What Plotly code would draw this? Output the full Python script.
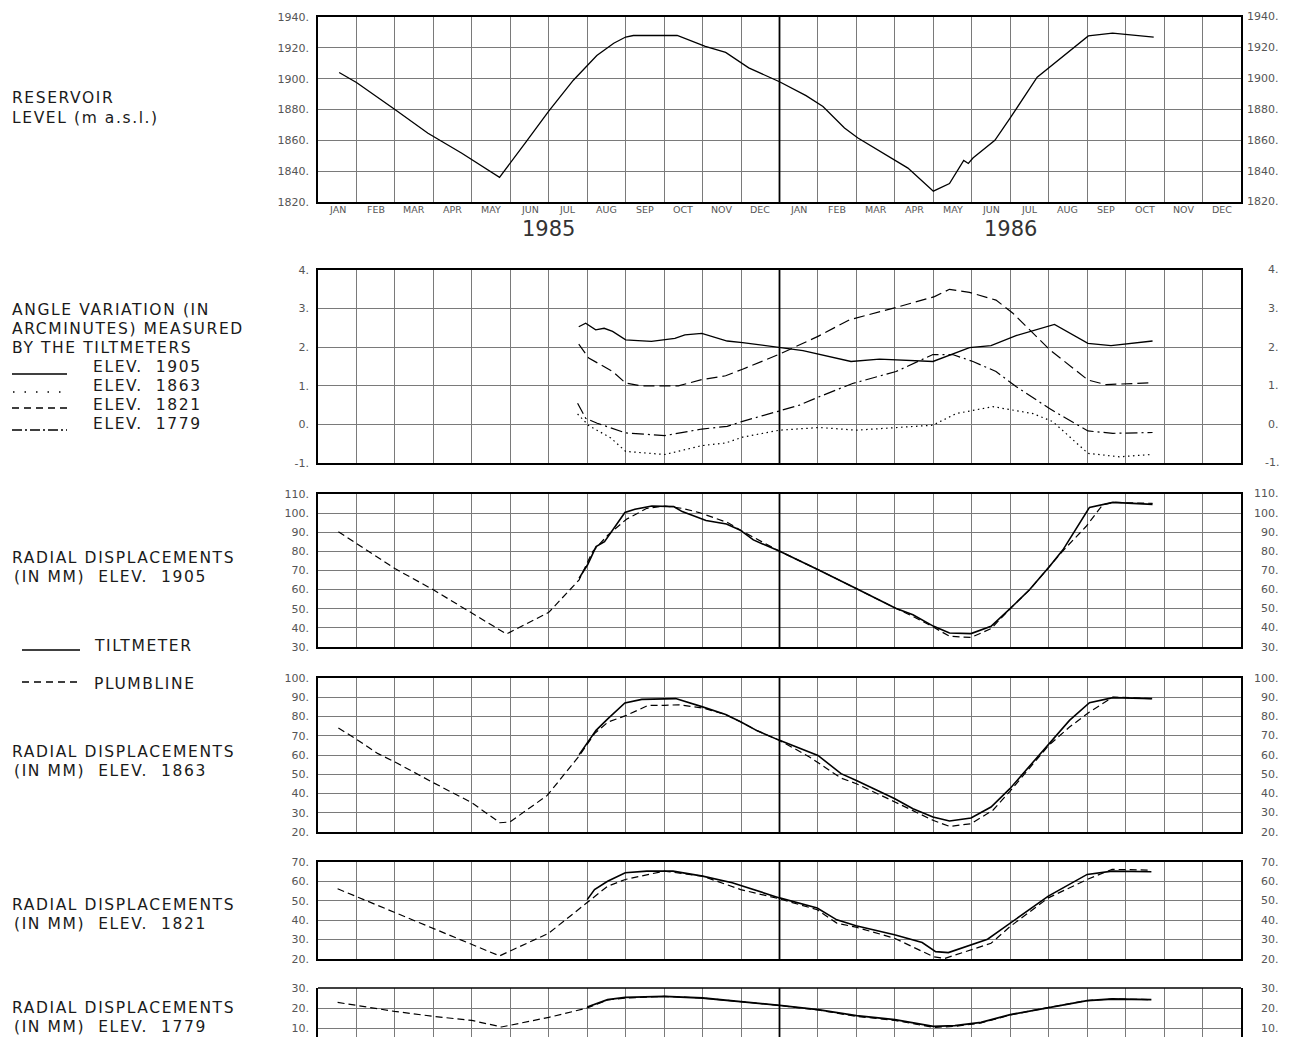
import plotly.graph_objects as go

W, H = 1289, 1045          # browser window
P = 8                      # default body margin of the page
FW, FH = W - 2 * P, H - 2 * P

# ---------------- data ----------------
months = ["JAN", "FEB", "MAR", "APR", "MAY", "JUN", "JUL", "AUG", "SEP", "OCT", "NOV", "DEC"]
years = ["1985", "1986"]

# x positions are in months since 1 Jan 1985
res_m = [0.55, 1.0, 2.0, 2.86, 3.74, 4.72, 5.41, 6.0, 6.64, 7.0, 7.25, 7.69, 8.0, 8.2, 9.34, 10.07,
         10.6, 11.2, 12.0, 12.69, 13.13, 13.69, 14.04, 15.34, 16.0, 16.42, 16.79, 16.91, 17.03, 17.6,
         18.0, 18.7, 19.24, 20.03, 20.66, 21.05, 21.73]
res_v = [1904, 1897.5, 1880, 1864.6, 1851.6, 1836, 1859, 1879, 1899, 1908.5, 1915, 1923, 1927, 1928,
         1928, 1921, 1917, 1907, 1898, 1889, 1882, 1868, 1861.5, 1842, 1827, 1832, 1847, 1845, 1848.5,
         1860, 1874.5, 1901, 1912, 1927.7, 1929.6, 1928.5, 1927]

a1905_m = [6.78, 6.96, 7.22, 7.44, 7.66, 8.0, 8.32, 8.67, 9.28, 9.54, 9.98, 10.64, 11.04, 12.0, 12.61,
           13.86, 14.6, 15.99, 16.42, 16.94, 17.5, 18.15, 19.15, 20.02, 20.62, 21.7]
a1905_v = [2.53, 2.62, 2.45, 2.49, 2.41, 2.19, 2.17, 2.15, 2.23, 2.32, 2.36, 2.16, 2.12, 2.0, 1.91,
           1.63, 1.69, 1.63, 1.8, 1.99, 2.04, 2.3, 2.59, 2.1, 2.04, 2.16]
a1863_m = [6.75, 7.04, 7.61, 8.0, 9.02, 9.98, 10.6, 11.04, 12.0, 13.04, 13.99, 15.03, 15.99, 16.59,
           17.55, 18.59, 19.11, 20.02, 20.84, 21.66]
a1863_v = [0.27, -0.03, -0.35, -0.7, -0.78, -0.55, -0.48, -0.33, -0.15, -0.08, -0.15, -0.08, -0.02,
           0.28, 0.46, 0.28, 0.07, -0.75, -0.84, -0.78]
a1821_m = [6.78, 7.04, 7.66, 8.0, 8.4, 9.37, 9.98, 10.6, 11.04, 12.0, 13.0, 13.82, 15.03, 16.03, 16.42,
           16.94, 17.63, 18.07, 19.02, 20.02, 20.49, 21.7]
a1821_v = [2.08, 1.72, 1.37, 1.07, 1.0, 1.0, 1.16, 1.26, 1.43, 1.82, 2.28, 2.71, 3.03, 3.31, 3.5,
           3.42, 3.22, 2.88, 1.94, 1.15, 1.03, 1.08]
a1779_m = [6.75, 6.96, 7.26, 8.0, 9.02, 9.98, 10.64, 11.04, 12.0, 12.52, 13.04, 13.9, 15.03, 15.99,
           16.5, 17.03, 17.63, 18.15, 19.02, 20.02, 20.67, 21.7]
a1779_v = [0.55, 0.16, 0.03, -0.22, -0.29, -0.12, -0.05, 0.08, 0.35, 0.5, 0.72, 1.06, 1.37, 1.81,
           1.81, 1.63, 1.37, 0.98, 0.41, -0.17, -0.23, -0.21]

r1905_p_m = [0.53, 2.0, 3.0, 4.02, 4.9, 6.0, 6.79, 7.14, 7.54, 8.02, 8.55, 9.03, 9.47, 9.91, 10.66,
             11.05, 12.02, 13.02, 13.82, 14.02, 15.02, 15.47, 16.01, 16.42, 16.98, 17.5, 18.01, 18.5,
             19.02, 19.37, 19.97, 20.4, 20.67, 21.7]
r1905_p_v = [90.3, 71.0, 59.9, 47.7, 36.8, 48.1, 65.1, 79.9, 88.6, 96.8, 102.5, 103.7, 102.5, 100.3,
             95, 90.3, 79.9, 70.3, 62.5, 60.3, 50.3, 46, 40.3, 35.6, 35, 39.6, 50.3, 59.9, 72.1, 80.3,
             93, 104.3, 105.6, 105.1]
r1905_t_m = [6.79, 7.01, 7.23, 7.45, 7.98, 8.24, 8.68, 9.25, 9.47, 10.09, 10.62, 10.97, 11.32, 12.02,
             13.02, 13.82, 14.02, 15.02, 15.47, 16.01, 16.42, 16.98, 17.5, 18.01, 18.5, 19.02, 19.37,
             20.06, 20.67, 21.7]
r1905_t_v = [66, 73, 82.5, 85.1, 100.3, 102, 103.7, 103.4, 100.8, 96.1, 94.3, 91.2, 86, 79.9, 70.3,
             62.5, 60.3, 50.3, 46.9, 40.8, 37.3, 37, 40.8, 50.3, 59.9, 72.1, 80.8, 103, 105.6, 104.6]

r1863_p_m = [0.53, 0.95, 1.56, 2.0, 3.0, 4.0, 4.73, 4.99, 5.96, 6.79, 7.19, 7.54, 8.02, 8.59, 9.0,
             9.38, 10.0, 10.6, 11.0, 11.4, 12.0, 12.78, 13.6, 14.0, 15.0, 15.99, 16.42, 16.98, 17.55,
             17.99, 19.0, 19.54, 20.06, 20.67, 21.69]
r1863_p_v = [74, 68.8, 60.7, 56.4, 45.6, 35.2, 24.8, 25.2, 39.0, 59.5, 71.1, 77.1, 80.6, 85.8, 85.8,
             86.1, 84.4, 81, 77.1, 72.8, 67.6, 59, 48, 45.1, 35.6, 26.1, 22.9, 24.3, 31.3, 41.1, 65,
             74.5, 82.3, 90.1, 89.3]
r1863_t_m = [6.79, 7.23, 7.54, 7.98, 8.42, 9.3, 10.0, 10.6, 11.0, 11.4, 12.0, 13.0, 13.6, 14.0, 15.0,
             15.47, 15.99, 16.42, 16.98, 17.5, 17.99, 19.0, 19.54, 20.06, 20.67, 21.69]
r1863_t_v = [60.2, 72.8, 78.9, 87, 88.9, 89.3, 85, 81, 77.1, 72.8, 67.6, 59.8, 50.3, 46.8, 37.3, 32.1,
             27.8, 25.7, 27.3, 33, 42.5, 65.9, 78, 87.2, 89.8, 89.3]

r1821_p_m = [0.51, 2.0, 3.0, 4.0, 4.72, 6.0, 7.0, 7.53, 7.99, 9.0, 10.0, 10.99, 12.0, 12.98, 13.49,
             13.99, 14.99, 16.0, 16.3, 17.5, 18.0, 18.99, 20.0, 20.65, 21.67]
r1821_p_v = [56.2, 44.0, 35.8, 27.8, 21.6, 33.3, 48.9, 57.5, 61, 65.3, 62.7, 55.8, 51, 45.4, 38.5,
             36.4, 30.7, 21.2, 20.3, 28.1, 36.8, 51.5, 61, 66.2, 65.8]
r1821_t_m = [7.0, 7.19, 7.53, 7.99, 8.55, 9.23, 10.0, 10.77, 12.0, 12.98, 13.49, 13.99, 14.99, 15.71,
             16.06, 16.39, 17.41, 17.99, 18.99, 20.0, 20.65, 21.67]
r1821_t_v = [50.6, 55.8, 60.1, 64.5, 65.3, 65.3, 62.7, 59.3, 51.5, 46.3, 40.2, 37.1, 32.5, 28.5, 23.8,
             23.3, 30.2, 38.5, 52.4, 63.6, 65.3, 65]

r1779_p_m = [0.51, 1.99, 3.0, 4.0, 4.77, 6.0, 7.0, 7.53, 7.99, 9.0, 10.0, 11.0, 12.0, 13.0, 14.0,
             15.0, 16.0, 16.56, 17.24, 18.0, 19.0, 20.0, 20.65, 21.67]
r1779_p_v = [22.8, 18.3, 15.8, 13.8, 10.5, 15.3, 20, 24.0, 25.0, 25.8, 25, 23.3, 21.3, 19.0, 15.8,
             13.8, 10.3, 10.8, 12.5, 16.5, 20.3, 23.7, 24.5, 24.2]
r1779_t_m = [7.0, 7.53, 7.99, 9.0, 10.0, 11.0, 12.0, 13.0, 14.0, 15.0, 16.0, 16.56, 17.24, 18.0, 19.0,
             20.0, 20.65, 21.67]
r1779_t_v = [20.5, 24.2, 25.3, 25.8, 25, 23.3, 21.3, 19.2, 16.2, 14.2, 10.8, 11.2, 12.8, 16.7, 20.3,
             23.7, 24.5, 24.2]

# y tick values per panel
ticks_res = [1820, 1840, 1860, 1880, 1900, 1920, 1940]
ticks_ang = [-1, 0, 1, 2, 3, 4]
ticks_1905 = [30, 40, 50, 60, 70, 80, 90, 100, 110]
ticks_1863 = [20, 30, 40, 50, 60, 70, 80, 90, 100]
ticks_1821 = [20, 30, 40, 50, 60, 70]
ticks_1779 = [0, 10, 20, 30]

# ---------------- layout helpers (page pixel -> paper) ----------------
def px(x):
    return (x - P) / FW


def py(y):
    return 1 - (y - P) / FH


X0, X1 = 318, 1241
GRID = "#7a7a7a"
TICKC = "#555555"
FONT = "DejaVu Sans"
BOTTOM = H - P  # last page row covered by the figure

# (top px, bottom px, y range, ticks)
panels = [
    (17, 202, [1820, 1940], ticks_res),
    (270, 463, [-1, 4], ticks_ang),
    (494, 647, [30, 110], ticks_1905),
    (678, 832, [20, 100], ticks_1863),
    (862, 959, [20, 70], ticks_1821),
    (988, BOTTOM, [30 - (BOTTOM - 988) / 2.0, 30], ticks_1779),
]

fig = go.Figure()


def ax(i, kind):
    return kind if i == 1 else f"{kind}{i}"


for i, (top, bot, rng, tv) in enumerate(panels, start=1):
    last = i == len(panels)
    fig.layout[ax(i, "xaxis")] = dict(
        domain=[px(X0), px(X1)], range=[0, 24], anchor=ax(i, "y"), automargin=False,
        tick0=0, dtick=1, showticklabels=False, ticks="",
        showgrid=True, gridcolor=GRID, gridwidth=1, zeroline=False,
        showline=not last, mirror=True, linecolor="black", linewidth=1.6,
    )
    fig.layout[ax(i, "yaxis")] = dict(
        domain=[max(0, py(bot)), py(top)], range=rng, anchor=ax(i, "x"), automargin=False,
        tickmode="array", tickvals=tv, ticktext=[f"{v}." for v in tv],
        ticks="", ticklabelstandoff=5,
        tickfont=dict(family=FONT, size=11, color=TICKC),
        showgrid=True, gridcolor=GRID, gridwidth=1, zeroline=False,
        showline=True, mirror=True, linecolor="black", linewidth=1.6,
    )
    if last:
        fig.add_shape(type="line", xref=f"{ax(i, 'x')} domain", yref=f"{ax(i, 'y')} domain",
                      x0=0, x1=1, y0=1, y1=1, line=dict(color="black", width=1.6))
    # thick separator between the two years
    fig.add_shape(type="line", xref=ax(i, "x"), yref=f"{ax(i, 'y')} domain",
                  x0=12, x1=12, y0=0, y1=1, line=dict(color="black", width=1.8))
    # right-side tick labels
    for v in tv:
        if rng[0] <= v <= rng[1]:
            fig.add_annotation(text=f"{v}.", xref="paper", yref=ax(i, "y"),
                               x=px(1281), y=v, xanchor="right", yanchor="middle",
                               showarrow=False, font=dict(family=FONT, size=11, color=TICKC))


def line(i, xs, ys, dash="solid", width=1.4):
    fig.add_trace(go.Scatter(x=xs, y=ys, mode="lines", xaxis=ax(i, "x"), yaxis=ax(i, "y"),
                             line=dict(color="black", width=width, dash=dash),
                             showlegend=False, hoverinfo="skip"))


PLUMB = "7px,4px"
line(1, res_m, res_v, width=1.3)
line(2, a1905_m, a1905_v, width=1.3)
line(2, a1863_m, a1863_v, dash="1.5px,3.5px", width=1.2)
line(2, a1821_m, a1821_v, dash="11px,5px", width=1.2)
line(2, a1779_m, a1779_v, dash="12px,4px,2px,4px", width=1.2)
line(3, r1905_p_m, r1905_p_v, dash=PLUMB, width=1.2)
line(3, r1905_t_m, r1905_t_v, width=1.6)
line(4, r1863_p_m, r1863_p_v, dash=PLUMB, width=1.2)
line(4, r1863_t_m, r1863_t_v, width=1.6)
line(5, r1821_p_m, r1821_p_v, dash=PLUMB, width=1.2)
line(5, r1821_t_m, r1821_t_v, width=1.6)
line(6, r1779_p_m, r1779_p_v, dash=PLUMB, width=1.2)
line(6, r1779_t_m, r1779_t_v, width=1.8)

# month labels and year labels under the top panel
for k in range(24):
    fig.add_annotation(text=months[k % 12], xref="x", yref="paper", x=k + 0.5, y=py(210),
                       xanchor="center", yanchor="middle", showarrow=False,
                       font=dict(family=FONT, size=9.5, color=TICKC))
for k, yr in enumerate(years):
    fig.add_annotation(text=yr, xref="x", yref="paper", x=6 + 12 * k, y=py(229),
                       xanchor="center", yanchor="middle", showarrow=False,
                       font=dict(family=FONT, size=21, color="#333333"))


# left-hand descriptive text
def txt(s, x, y, size=15.5):
    fig.add_annotation(text=f'<span style="letter-spacing:1.6px">{s}</span>', xref="paper",
                       yref="paper", x=px(x), y=py(y), xanchor="left", yanchor="middle",
                       showarrow=False, font=dict(family=FONT, size=size, color="#1a1a1a"))


NB = "\u00a0"
txt("RESERVOIR", 10, 98)
txt("LEVEL (m a.s.l.)", 10, 118)
txt("ANGLE VARIATION (IN", 10, 310)
txt("ARCMINUTES) MEASURED", 10, 329)
txt("BY THE TILTMETERS", 10, 348)
txt("ELEV." + NB + NB + "1905", 91, 367)
txt("ELEV." + NB + NB + "1863", 91, 386)
txt("ELEV." + NB + NB + "1821", 91, 405)
txt("ELEV." + NB + NB + "1779", 91, 424)
for yy, el in [(558, "1905"), (752, "1863"), (905, "1821"), (1008, "1779")]:
    txt("RADIAL DISPLACEMENTS", 10, yy)
    txt("(IN MM)" + NB + NB + "ELEV." + NB + NB + el, 12, yy + 19)
txt("TILTMETER", 92, 646)
txt("PLUMBLINE", 92, 684)


# legend line samples
def sample(x0, x1, y, dash, width=1.3):
    fig.add_shape(type="line", xref="paper", yref="paper", x0=px(x0), x1=px(x1),
                  y0=py(y), y1=py(y), line=dict(color="black", width=width, dash=dash))


sample(12, 67, 374, "solid")
sample(13, 67, 392, "1.5px,10px", 1.5)
sample(12, 67, 408, "7px,5px")
sample(12, 67, 430, "10px,3px,2px,3px")
sample(22, 80, 650, "solid")
sample(22, 80, 682, "7px,5px")

fig.update_layout(width=FW, height=FH,
                  margin=dict(l=0, r=0, t=0, b=0, pad=0, autoexpand=False),
                  paper_bgcolor="white", plot_bgcolor="white", showlegend=False)

fig.write_html("out.html")
